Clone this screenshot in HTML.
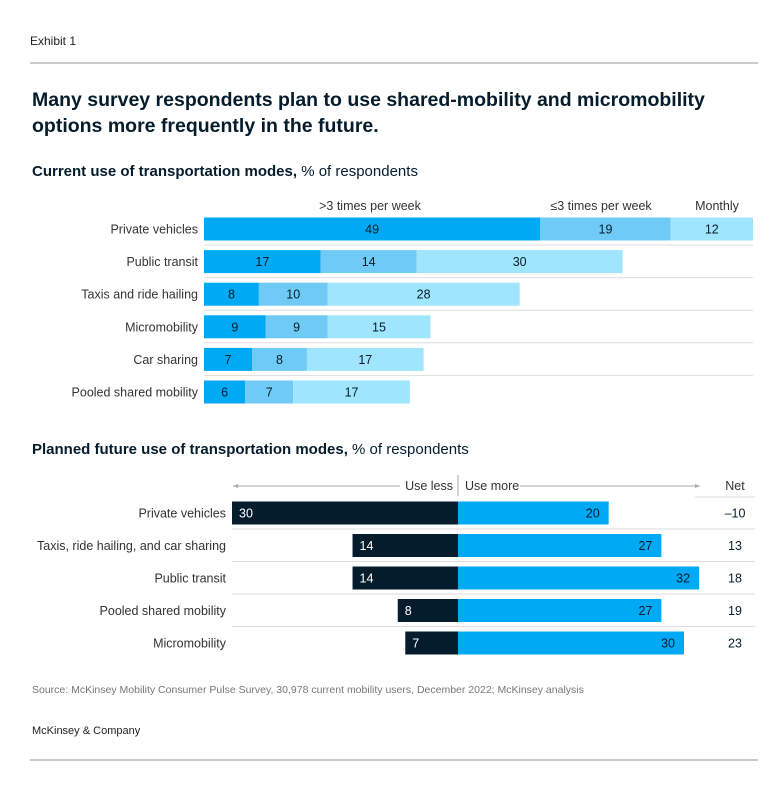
<!DOCTYPE html>
<html><head><meta charset="utf-8"><style>
body{margin:0;background:#fff;font-family:"Liberation Sans",Arial,sans-serif;}
svg text{font-family:"Liberation Sans",Arial,sans-serif;}
</style></head><body>
<svg id="c" width="783" height="798" xmlns="http://www.w3.org/2000/svg">
<text x="30" y="45" font-size="12" fill="#222">Exhibit 1</text>
<line x1="30" y1="63" x2="758" y2="63" stroke="#999"/>
<text x="32" y="106" font-size="19.5" font-weight="bold" fill="#051c2c">Many survey respondents plan to use shared-mobility and micromobility</text>
<text x="32" y="132" font-size="19.5" font-weight="bold" fill="#051c2c">options more frequently in the future.</text>
<text x="32" y="176" font-size="15" fill="#051c2c"><tspan font-weight="bold">Current use of transportation modes,</tspan> % of respondents</text>
<text x="370" y="210" font-size="12.5" fill="#333" text-anchor="middle">&gt;3 times per week</text>
<text x="601" y="210" font-size="12.5" fill="#333" text-anchor="middle">≤3 times per week</text>
<text x="717" y="210" font-size="12.5" fill="#333" text-anchor="middle">Monthly</text>
<g id="top"></g>
<text x="32" y="454" font-size="15" fill="#051c2c"><tspan font-weight="bold">Planned future use of transportation modes,</tspan> % of respondents</text>
<line x1="233" y1="486" x2="400" y2="486" stroke="#aaa"/>
<path d="M233 486 l5 -2 v4 z" fill="#aaa"/>
<text x="453" y="490" font-size="12.5" fill="#333" text-anchor="end">Use less</text>
<line x1="458" y1="475" x2="458" y2="496" stroke="#aaa"/>
<text x="465" y="490" font-size="12.5" fill="#333">Use more</text>
<line x1="520" y1="486" x2="700" y2="486" stroke="#aaa"/>
<path d="M700 486 l-5 -2 v4 z" fill="#aaa"/>
<text x="735" y="490" font-size="12.5" fill="#333" text-anchor="middle">Net</text>
<line x1="695" y1="497" x2="755" y2="497" stroke="#ddd"/>
<g id="bot"></g>
<text x="32" y="693" font-size="10.5" fill="#777">Source: McKinsey Mobility Consumer Pulse Survey, 30,978 current mobility users, December 2022; McKinsey analysis</text>
<text x="32" y="734" font-size="11" fill="#222">McKinsey &amp; Company</text>
<line x1="30" y1="760" x2="758" y2="760" stroke="#999"/>
</svg>
<script>
const topCats=["Private vehicles","Public transit","Taxis and ride hailing","Micromobility","Car sharing","Pooled shared mobility"];
const frequent=[49,17,8,9,7,6];
const weekly=[19,14,10,9,8,7];
const monthly=[12,30,28,15,17,17];
const botCats=["Private vehicles","Taxis, ride hailing, and car sharing","Public transit","Pooled shared mobility","Micromobility"];
const useLess=[30,14,14,8,7];
const useMore=[20,27,32,27,30];
const net=["–10","13","18","19","23"];
const NS="http://www.w3.org/2000/svg";
function mk(p,t,a){const e=document.createElementNS(NS,t);for(const k in a)e.setAttribute(k,a[k]);p.appendChild(e);return e;}
const topG=document.getElementById('top'),botG=document.getElementById('bot');
const x1=v=>204+v*549/80;
const y1=i=>229+i*32.6;
const cols=["#00a9f4","#6fcbf5","#9ee5fd"];
topCats.forEach((c,i)=>{
  const cy=y1(i);
  const t=mk(topG,'text',{x:198,y:cy+4.5,'font-size':12.5,fill:'#333','text-anchor':'end'});t.textContent=c;
  
  
  let acc=0;
  [frequent[i],weekly[i],monthly[i]].forEach((v,j)=>{
    const r=mk(topG,'rect',{x:x1(acc),y:cy-11.5,width:x1(acc+v)-x1(acc),height:23,fill:cols[j]});
    
    
    const l=mk(topG,'text',{x:(x1(acc)+x1(acc+v))/2,y:cy+4.5,'font-size':12.5,fill:'#051c2c','text-anchor':'middle'});l.textContent=v;
    
    
    acc+=v;
  });
  if(i<topCats.length-1){const ln=mk(topG,'line',{x1:204,x2:753,y1:cy+16,y2:cy+16,stroke:'#ddd'});
    
    }
});
const xc=v=>458+v*226/30;
const y2=i=>513+i*32.5;
botCats.forEach((c,i)=>{
  const cy=y2(i);
  const t=mk(botG,'text',{x:226,y:cy+4.5,'font-size':12.5,fill:'#333','text-anchor':'end'});t.textContent=c;
  
  
  const a=mk(botG,'rect',{x:xc(-useLess[i]),y:cy-11.5,width:xc(0)-xc(-useLess[i]),height:23,fill:'#051c2c'});
  
  
  const b=mk(botG,'rect',{x:xc(0),y:cy-11.5,width:xc(useMore[i])-xc(0),height:23,fill:'#00a9f4'});
  
  
  const la=mk(botG,'text',{x:xc(-useLess[i])+7,y:cy+4.5,'font-size':12.5,fill:'#fff'});la.textContent=useLess[i];
  
  
  const lb=mk(botG,'text',{x:xc(useMore[i])-9,y:cy+4.5,'font-size':12.5,fill:'#051c2c','text-anchor':'end'});lb.textContent=useMore[i];
  
  
  const n=mk(botG,'text',{x:735,y:cy+4.5,'font-size':12.5,fill:'#051c2c','text-anchor':'middle'});n.textContent=net[i];
  
  
  if(i<botCats.length-1){
    const ln=mk(botG,'line',{x1:232,x2:700,y1:cy+16,y2:cy+16,stroke:'#ddd'});
    
    
    const ln2=mk(botG,'line',{x1:695,x2:755,y1:cy+16,y2:cy+16,stroke:'#ddd'});
    
    
  }
});
</script>
</body></html>
